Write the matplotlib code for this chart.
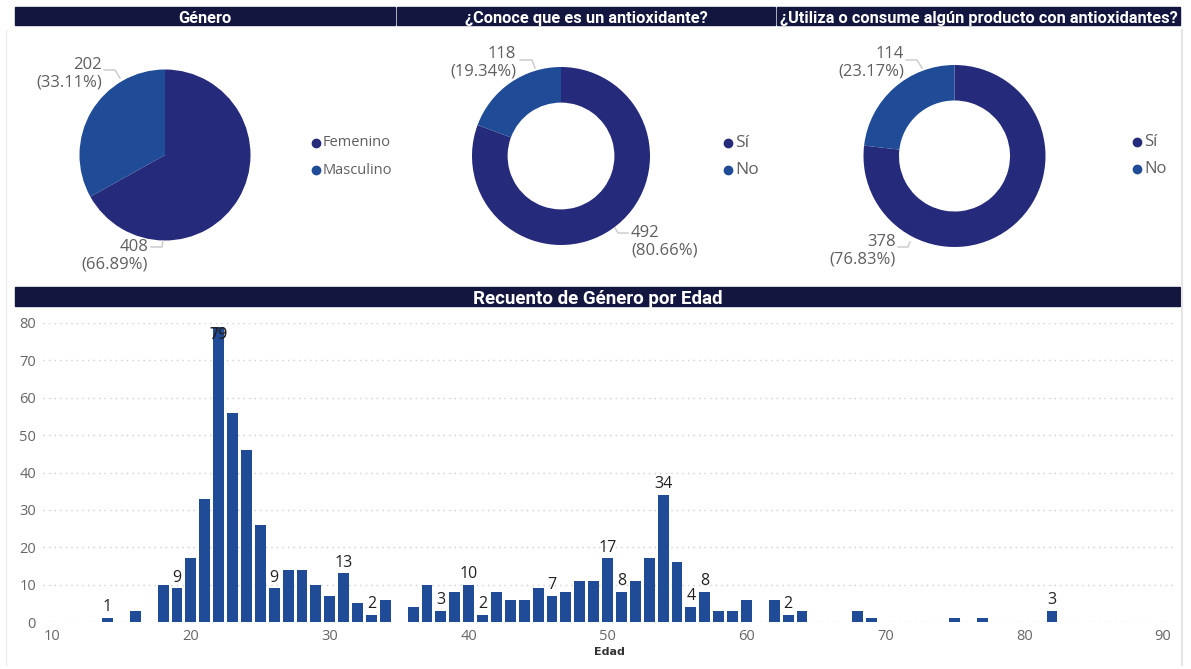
import matplotlib.pyplot as plt
from matplotlib.patches import Rectangle

W, H = 1191, 669

genero = ['Femenino', 'Masculino']
genero_n = [408, 202]
conoce = ['Sí', 'No']
conoce_n = [492, 118]
utiliza = ['Sí', 'No']
utiliza_n = [378, 114]

edades = [14, 16, 18, 19, 20, 21, 22, 23, 24, 25, 26, 27, 28, 29, 30, 31, 32, 33, 34,
          36, 37, 38, 39, 40, 41, 42, 43, 44, 45, 46, 47, 48, 49, 50, 51, 52, 53, 54,
          55, 56, 57, 58, 59, 60, 62, 63, 64, 68, 69, 75, 77, 82]
conteo = [1, 3, 10, 9, 17, 33, 79, 56, 46, 26, 9, 14, 14, 10, 7, 13, 5, 2, 6,
          4, 10, 3, 8, 10, 2, 8, 6, 6, 9, 7, 8, 11, 11, 17, 8, 11, 17, 34,
          16, 4, 8, 3, 3, 6, 6, 2, 3, 3, 1, 1, 1, 3]
# edades con etiqueta visible en el original
etiquetadas = [14, 19, 22, 26, 31, 33, 38, 40, 41, 46, 50, 51, 54, 56, 57, 63, 82]

navy = '#13163f'
c_dark = '#262a7a'
c_light = '#1f4b97'
gray = '#5f5f5f'
font = 'Open Sans'

fig = plt.figure(figsize=(W / 100, H / 100), dpi=100)
fig.patch.set_facecolor('white')

# capa superior en coordenadas de pixel
ov = fig.add_axes([0, 0, 1, 1])
ov.set_xlim(0, W)
ov.set_ylim(0, H)
ov.axis('off')

def fy(y):
    return H - y

def title_bar(x0, x1, y0, y1, text, size):
    ov.add_patch(Rectangle((x0, fy(y1)), x1 - x0, y1 - y0, color=navy, zorder=1))
    ov.text((x0 + x1) / 2, fy((y0 + y1) / 2 + 1), text, color='white', fontsize=size,
            fontweight='bold', family='Roboto', ha='center', va='center_baseline',
            zorder=2)

title_bar(15, 395, 7, 25, 'Género', 11.8)
title_bar(397, 775, 7, 25, '¿Conoce que es un antioxidante?', 11.8)
title_bar(777, 1180, 7, 25, '¿Utiliza o consume algún producto con antioxidantes?', 11.8)
title_bar(15, 1180, 287, 306, 'Recuento de Género por Edad', 13.5)

# bordes de panel
ov.plot([1182, 1182], [fy(30), fy(665)], color='#e4e4e4', lw=1.5)
ov.plot([6, 6], [fy(30), fy(665)], color='#ececec', lw=1)


def pie_panel(cx, cy, r, vals, names, hole, labels, leg_x, leg_y, leg_size):
    wp = dict(edgecolor='none')
    if hole:
        wp['width'] = r * hole
    ov.pie(vals, colors=[c_dark, c_light], startangle=90, counterclock=False,
           center=(cx, fy(cy)), radius=r, wedgeprops=wp, frame=True)
    total = sum(vals)
    for v, (tx, ty, ha, line) in zip(vals, labels):
        ov.text(tx, fy(ty), '{}\n({:.2f}%)'.format(v, v / total * 100), ha=ha,
                multialignment=ha, va='center', fontsize=12, color=gray,
                family=font, linespacing=1.1)
        ov.plot([p[0] for p in line], [fy(p[1]) for p in line], color='#c8c8c8', lw=1)
    for i, n in enumerate(names):
        yy = fy(leg_y + i * 27)
        ov.plot(leg_x, yy, 'o', color=[c_dark, c_light][i], ms=6)
        ov.text(leg_x + 7, yy, n, va='center', ha='left', fontsize=leg_size,
                color=gray, family=font)


pie_panel(165, 155, 85.5, genero_n, genero, None,
          [(148, 256, 'right', [(151, 247), (162, 247), (163, 241)]),
           (102, 74, 'right', [(104, 70), (115, 70), (120, 78)])],
          316, 143, 10.5)
pie_panel(561, 156, 89, conoce_n, conoce, 0.4,
          [(631, 242, 'left', [(628, 233), (618, 233), (615, 228)]),
           (516, 63, 'right', [(520, 60), (532, 60), (535, 68)])],
          728, 143, 12.5)
pie_panel(954.5, 156, 91, utiliza_n, utiliza, 0.39,
          [(896, 251, 'right', [(898, 247), (908, 247), (910, 242)]),
           (904, 63, 'right', [(906, 60), (917, 60), (922, 68)])],
          1137, 142, 12)

ov.set_xlim(0, W)
ov.set_ylim(0, H)
ov.set_aspect('auto')
ov.axis('off')

# histograma de edades
ax = fig.add_axes([43 / W, 47 / H, (1175 - 43) / W, 299 / H])
ax.set_zorder(-1)
ax.bar(edades, conteo, width=0.78, color=c_light, zorder=3)
ax.set_xlim(9.35, 90.86)
ax.set_ylim(0, 80)
ax.set_xticks(range(10, 91, 10))
ax.set_yticks(range(0, 81, 10))
ax.grid(axis='y', linestyle=(0, (1, 3)), color='#cfcfcf', lw=1, zorder=0)
for s in ax.spines.values():
    s.set_visible(False)
ax.tick_params(length=0, labelsize=10.5, labelcolor='#666666', pad=5)
for t in ax.get_xticklabels() + ax.get_yticklabels():
    t.set_family(font)
ax.set_xlabel('Edad', fontsize=8, fontweight='bold', color='#333333', labelpad=2)

for e, c in zip(edades, conteo):
    if e in etiquetadas:
        if c > 75:
            ax.text(e, c, str(c), ha='center', va='top', fontsize=11.5, color='#222222',
                    family=font, fontweight='semibold')
        else:
            ax.annotate(str(c), (e, c), xytext=(0, 2), textcoords='offset points',
                        ha='center', va='bottom', fontsize=11.5, color='#222222',
                        family=font)

fig.savefig('out.png', dpi=100, facecolor='white')
